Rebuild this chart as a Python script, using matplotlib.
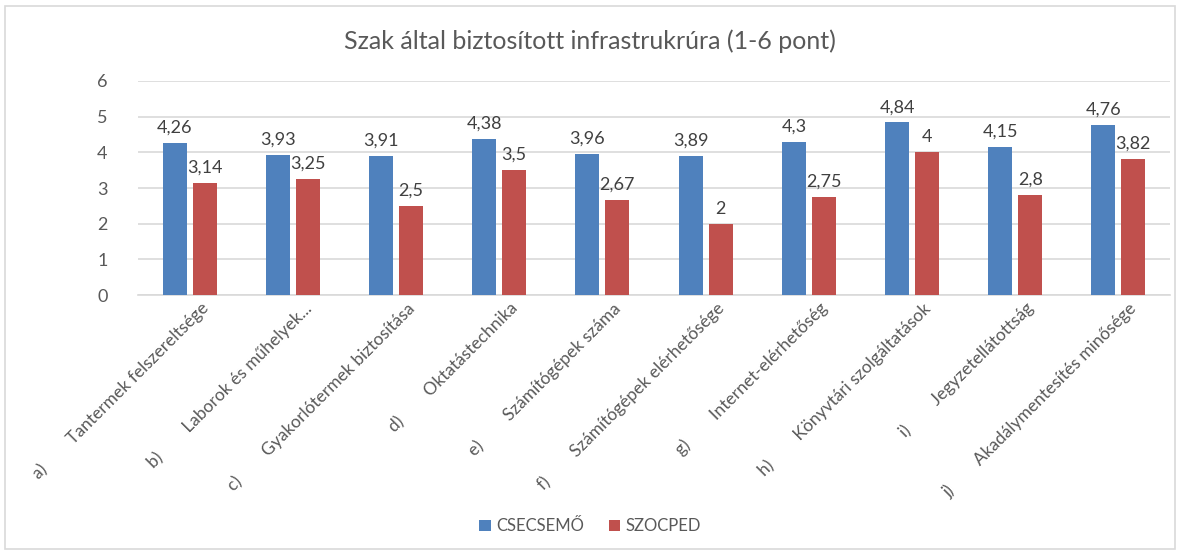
import matplotlib.pyplot as plt
import numpy as np
from matplotlib.patches import Rectangle

plt.rcParams['font.family'] = ['Lato', 'DejaVu Sans']

prefixes = ['a)', 'b)', 'c)', 'd)', 'e)', 'f)', 'g)', 'h)', 'i)', 'j)']
names = ['Tantermek felszereltsége', 'Laborok és műhelyek...', 'Gyakorlótermek biztosítása',
         'Oktatástechnika', 'Számítógépek száma', 'Számítógépek elérhetősége',
         'Internet-elérhetőség', 'Könyvtári szolgáltatások', 'Jegyzetellátottság',
         'Akadálymentesítés minősége']
csecsemo = [4.26, 3.93, 3.91, 4.38, 3.96, 3.89, 4.3, 4.84, 4.15, 4.76]
szocped = [3.14, 3.25, 2.5, 3.5, 2.67, 2, 2.75, 4, 2.8, 3.82]
series = ['CSECSEMŐ', 'SZOCPED']
colors = ['#4F81BD', '#C0504D']


def fmt(v):
    return f'{v:g}'.replace('.', ',')


fig = plt.figure(figsize=(11.8, 5.51), dpi=100)
fig.patches.append(Rectangle((0.004, 0.004), 0.992, 0.985, transform=fig.transFigure,
                             fill=False, edgecolor='#D9D9D9', linewidth=1.2))
ax = fig.add_axes([0.117, 0.4646, 0.8745, 0.3884])

x = np.arange(len(names))
w = 0.233
off = 0.145
for vals, c, lab, d in zip([csecsemo, szocped], colors, series, [-off, off]):
    bars = ax.bar(x + d, vals, w, color=c, label=lab, zorder=3)
    for b, v in zip(bars, vals):
        ax.text(b.get_x() + b.get_width() / 2, v + 0.2, fmt(v), ha='center', va='bottom',
                fontsize=13, color='#404040', zorder=4)

ax.set_xlim(-0.5, len(names) - 0.5)
ax.set_ylim(0, 6)
ax.set_yticks(range(7))
ax.yaxis.grid(True, color='#D9D9D9', linewidth=1.2, zorder=0)
for s in ['top', 'right', 'left']:
    ax.spines[s].set_visible(False)
ax.spines['bottom'].set_color('#D9D9D9')
ax.spines['bottom'].set_linewidth(1.2)
ax.tick_params(axis='both', length=0, labelcolor='#595959', labelsize=13)
ax.tick_params(axis='y', pad=22)

ax.set_xticks(x + 0.1)
ax.set_xticklabels([f'{p}        {n}' for p, n in zip(prefixes, names)],
                   rotation=45, ha='right', rotation_mode='anchor', fontsize=12.5)

fig.text(0.5, 0.925, 'Szak által biztosított infrastrukrúra (1-6 pont)', ha='center',
         va='center', fontsize=18, color='#595959')
fig.legend(loc='center', bbox_to_anchor=(0.5, 0.045), ncol=2, frameon=False,
           fontsize=12, handlelength=0.7, handleheight=0.7, handletextpad=0.3,
           columnspacing=1.5, labelcolor='#595959')

fig.savefig('out.png')
